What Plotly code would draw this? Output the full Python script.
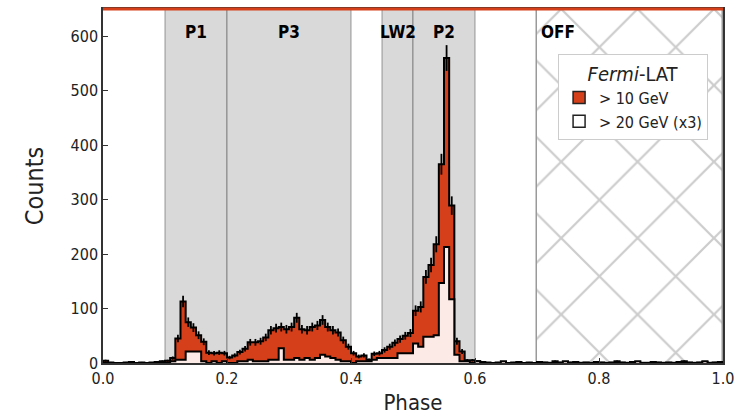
import numpy as np
import plotly.graph_objects as go

# ---------------- data ----------------
N_BINS = 120
phase_edges = np.linspace(0.0, 1.0, N_BINS + 1)

counts_10gev = [
    4, 1, 0, 0, 1, 2, 0, 1, 0, 1, 2, 3,          # 0.000-0.100
    4, 9, 45, 113, 75, 65, 51, 39, 19, 18, 19, 18,  # P1
    10, 14, 20, 26, 38, 38, 40, 47, 60, 64, 66, 62,
    66, 83, 62, 60, 66, 69, 79, 66, 60, 56, 42, 30,  # P3
    18, 12, 14, 6, 17, 18, 24, 30, 37, 44, 50, 55,   # LW2
    96, 103, 158, 180, 218, 365, 560, 289, 40, 21, 5, 5,  # P2
    3, 2, 1, 0, 1, 0, 0, 1, 2, 0, 1, 0,
    2, 1, 0, 3, 1, 0, 1, 2, 0, 1, 0, 2,
    1, 0, 1, 3, 1, 0, 2, 1, 0, 0, 2, 1,
    0, 1, 0, 2, 3, 1, 0, 1, 2, 0, 1, 2,
]

counts_20gev_x3 = [
    0, 0, 0, 0, 0, 0, 0, 0, 0, 0, 0, 0,
    0, 3, 6, 6, 21, 21, 21, 3, 0, 3, 0, 3,
    0, 0, 3, 3, 6, 3, 3, 3, 6, 6, 27, 6,
    6, 9, 6, 9, 6, 9, 15, 12, 9, 6, 3, 3,
    0, 3, 3, 3, 6, 9, 9, 9, 9, 18, 18, 18,
    36, 30, 48, 48, 51, 147, 213, 117, 15, 3, 3, 0,
    3, 0, 0, 0, 0, 3, 0, 0, 0, 0, 0, 0,
    0, 0, 0, 0, 0, 3, 0, 0, 0, 0, 0, 0,
    0, 0, 0, 0, 0, 0, 0, 3, 0, 0, 0, 0,
    0, 0, 0, 0, 0, 0, 0, 0, 3, 0, 0, 0,
]

phase_regions = [("P1", 0.10, 0.20), ("P3", 0.20, 0.40),
                 ("LW2", 0.45, 0.50), ("P2", 0.50, 0.60)]
off_region = ("OFF", 0.70, 1.00)

series_names = ["> 10 GeV", "> 20 GeV (x3)"]
y_max = 650
y_ticks = [0, 100, 200, 300, 400, 500, 600]
x_ticks = [0.0, 0.2, 0.4, 0.6, 0.8, 1.0]

# ---------------- helpers ----------------
def step_xy(edges, vals):
    vals = list(vals)
    xs = [edges[0]] + list(edges[:-1]) + [edges[-1], edges[-1]]
    ys = [0] + vals + [vals[-1], 0]
    return xs, ys

FONT = "DejaVu Sans Condensed, DejaVu Sans, sans-serif"
RED = "#d5401a"
PINK = "#fbeae5"

fig = go.Figure()

# OFF region hatch
fig.add_trace(go.Bar(
    x=[(off_region[1] + off_region[2]) / 2], y=[y_max],
    width=[off_region[2] - off_region[1]],
    marker=dict(color="white",
                line=dict(color="#9a9a9a", width=1.5),
                pattern=dict(shape="x", size=54, solidity=0.08,
                             fgcolor="#999999", bgcolor="white")),
    showlegend=False, hoverinfo="skip"))

xs, ys = step_xy(phase_edges, counts_10gev)
fig.add_trace(go.Scatter(
    x=xs, y=ys, mode="lines", line=dict(shape="hv", color="black", width=2),
    fill="tozeroy", fillcolor=RED, showlegend=False, hoverinfo="skip"))

centers = 0.5 * (phase_edges[:-1] + phase_edges[1:])
fig.add_trace(go.Scatter(
    x=centers, y=counts_10gev, mode="markers",
    marker=dict(size=0.1, color="black"),
    error_y=dict(type="data", array=np.sqrt(np.array(counts_10gev, float)),
                 color="black", thickness=1.8, width=0),
    showlegend=False, hoverinfo="skip"))

xs2, ys2 = step_xy(phase_edges, counts_20gev_x3)
fig.add_trace(go.Scatter(
    x=xs2, y=ys2, mode="lines", line=dict(shape="hv", color="black", width=2),
    fill="tozeroy", fillcolor=PINK, showlegend=False, hoverinfo="skip"))

# legend proxies (filled rectangles)
for nm, col in zip(series_names, [RED, "white"]):
    fig.add_trace(go.Bar(x=[None], y=[None], name=nm,
                         marker=dict(color=col, line=dict(color="#222", width=1.5))))

# shaded phase regions
for name, a, b in phase_regions:
    fig.add_shape(type="rect", xref="x", yref="paper", x0=a, x1=b, y0=0, y1=1,
                  fillcolor="#d9d9d9", line=dict(color="rgba(90,90,90,0.4)", width=1.5),
                  layer="below")
    fig.add_annotation(x=(a + b) / 2, y=0.935, xref="x", yref="paper",
                       text=f"<b>{name}</b>", showarrow=False, yanchor="middle",
                       font=dict(family=FONT, size=17, color="black"))
fig.add_annotation(x=off_region[1] + 0.003, y=0.935, xref="x", yref="paper",
                   text=f"<b>{off_region[0]}</b>", showarrow=False, xanchor="left",
                   yanchor="middle",
                   font=dict(family=FONT, size=17, color="black"))

# top red line
fig.add_shape(type="line", xref="paper", yref="paper", x0=0, x1=1, y0=1, y1=1,
              line=dict(color=RED, width=3), layer="above")

fig.update_layout(
    width=756, height=420,
    margin=dict(l=103, r=33, t=7, b=57),
    plot_bgcolor="white", paper_bgcolor="white",
    font=dict(family=FONT, size=16, color="#222"),
    barmode="overlay", bargap=0,
    legend=dict(x=0.734, y=0.874, xanchor="left", yanchor="top",
                bgcolor="white", bordercolor="#cccccc", borderwidth=1,
                title=dict(text="<i>Fermi</i>-LAT", font=dict(size=20, color="#222"),
                           side="top center"),
                font=dict(size=16, color="#222"), itemwidth=30,
                tracegroupgap=4),
    showlegend=True,
)
fig.update_xaxes(range=[0, 1], tickvals=x_ticks, tickformat=".1f",
                 ticks="inside", ticklen=5, tickcolor="#333",
                 showline=True, linecolor="#333", linewidth=1.5, mirror=True,
                 showgrid=False, zeroline=False,
                 title=dict(text="Phase", font=dict(size=22), standoff=8))
fig.update_yaxes(range=[0, y_max], tickvals=y_ticks,
                 ticks="inside", ticklen=5, tickcolor="#333",
                 showline=True, linecolor="#333", linewidth=1.5, mirror=True,
                 showgrid=False, zeroline=False,
                 title=dict(text="Counts", font=dict(size=25), standoff=20))

fig.write_html("out.html")
